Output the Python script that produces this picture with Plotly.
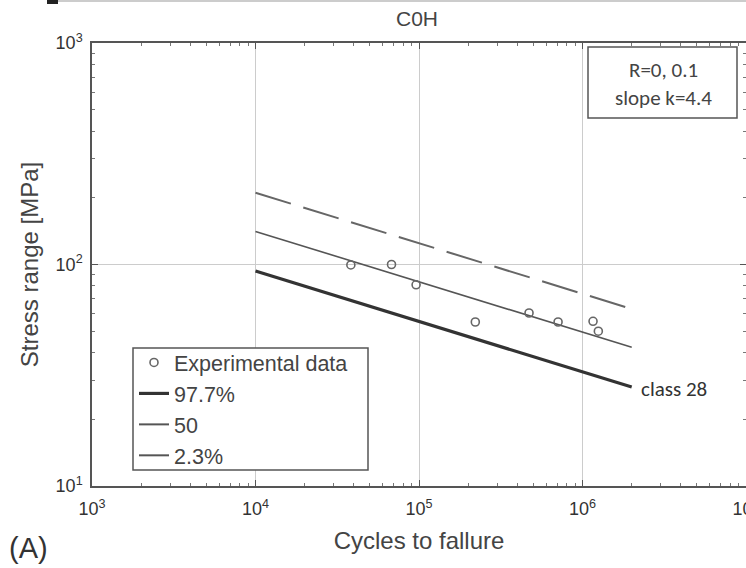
import plotly.graph_objects as go

# Data
cycles_exp = [38300, 67900, 96000, 221000, 471000, 709000, 1160000, 1250000]
stress_exp = [99.5, 100, 81, 55, 60.4, 55, 55.4, 50]

cycles_line = [1e4, 2e6]
s_977 = [93.4, 28]
s_50 = [141, 42.3]
s_23 = [211, 63]

x_tickvals = [1e3, 1e4, 1e5, 1e6, 1e7]
x_ticktext = ["10<sup>3</sup>", "10<sup>4</sup>", "10<sup>5</sup>", "10<sup>6</sup>", "10<sup>7</sup>"]
y_tickvals = [10, 100, 1000]
y_ticktext = ["10<sup>1</sup>", "10<sup>2</sup>", "10<sup>3</sup>"]

PL, PR, PT, PB = 92, 0, 43, 82
W, H = 746, 568
PW, PH = W - PL - PR, H - PT - PB


def px(x):
    return (x - PL) / PW


def py(y):
    return (H - PB - y) / PH


fig = go.Figure()

fig.add_trace(go.Scatter(x=cycles_line, y=s_23, mode="lines",
                         line=dict(color="#666666", width=2, dash="37px,13px"),
                         showlegend=False))
fig.add_trace(go.Scatter(x=cycles_line, y=s_50, mode="lines",
                         line=dict(color="#555555", width=1.6), showlegend=False))
fig.add_trace(go.Scatter(x=cycles_line, y=s_977, mode="lines",
                         line=dict(color="#333333", width=3.2), showlegend=False))
fig.add_trace(go.Scatter(x=cycles_exp, y=stress_exp, mode="markers",
                         marker=dict(symbol="circle-open", size=8, color="#666666",
                                     line=dict(width=1.6)),
                         name="Experimental data"))
# legend entries
fig.add_trace(go.Scatter(x=[None], y=[None], mode="lines",
                         line=dict(color="#333333", width=3.2), name="97.7%"))
fig.add_trace(go.Scatter(x=[None], y=[None], mode="lines",
                         line=dict(color="#555555", width=2), name="50"))
fig.add_trace(go.Scatter(x=[None], y=[None], mode="lines",
                         line=dict(color="#555555", width=2), name="2.3%"))

axis_common = dict(
    type="log", showline=True, linecolor="#555555", linewidth=1.5, mirror="ticks",
    ticks="inside", ticklen=6, tickcolor="#555555",
    showgrid=True, gridcolor="#cccccc", gridwidth=1,
    zeroline=False, automargin=False, tickmode="array", ticklabeloverflow="allow",
    tickfont=dict(family="Liberation Sans, Arial", size=18, color="#333333"),
    minor=dict(ticks="inside", ticklen=3, tickcolor="#777777", showgrid=False, dtick="D1"),
)

fig.update_layout(
    width=W, height=H,
    margin=dict(l=PL, r=PR, t=PT, b=PB, autoexpand=False),
    paper_bgcolor="white", plot_bgcolor="white",
    font=dict(family="Liberation Sans, Arial", color="#444444"),
    title=dict(text="C0H", x=417 / W, xanchor="center", y=1 - 19 / H, yanchor="middle",
               font=dict(size=21, color="#444444")),
    xaxis=dict(axis_common, range=[3, 7], ticklabelstandoff=6,
               tickvals=x_tickvals, ticktext=x_ticktext,
               title=dict(text="Cycles to fallure", font=dict(size=24, color="#444444"), standoff=14)),
    yaxis=dict(axis_common, range=[1, 3], ticklabelstandoff=4,
               tickvals=y_tickvals, ticktext=y_ticktext,
               title=dict(text="Stress range [MPa]", font=dict(size=24, color="#444444"), standoff=10)),
    legend=dict(x=px(134), y=py(342), xanchor="left", yanchor="top",
                bgcolor="rgba(0,0,0,0)", borderwidth=0,
                font=dict(size=21.5, color="#444444"), tracegroupgap=0, itemwidth=30),
    showlegend=True,
)

# legend frame
fig.add_shape(type="rect", xref="paper", yref="paper", x0=px(133), x1=px(368),
              y0=py(470), y1=py(348), line=dict(color="#555555", width=1.5),
              fillcolor="white", layer="above")
# info box
fig.add_shape(type="rect", xref="paper", yref="paper", x0=px(588), x1=px(737),
              y0=py(118), y1=py(47), line=dict(color="#555555", width=1.5),
              fillcolor="white", layer="above")
box_lines = ["R=0, 0.1", "slope k=4.4"]
box_line_y = [70.5, 98]
for t, yy in zip(box_lines, box_line_y):
    fig.add_annotation(text=t, xref="paper", yref="paper", x=px(663), y=py(yy),
                       xanchor="center", yanchor="middle", showarrow=False,
                       font=dict(family="Carlito, Open Sans, Liberation Sans", size=21,
                                 color="#444444"))
fig.add_annotation(text="class 28", x=6.301, y=1.447, xref="x", yref="y",
                   xanchor="left", yanchor="middle", showarrow=False, xshift=7, yshift=-2,
                   font=dict(family="Carlito, Open Sans, Liberation Sans", size=21, color="#333333"))
fig.add_annotation(text="(A)", xref="paper", yref="paper", x=px(7), y=py(548),
                   xanchor="left", yanchor="middle", showarrow=False,
                   font=dict(size=29, color="#333333"))
# scan edge artifacts at the top
fig.add_shape(type="line", xref="paper", yref="paper", x0=px(56), x1=1, y0=py(1), y1=py(1),
              line=dict(color="#bbbbbb", width=1.5))
fig.add_shape(type="rect", xref="paper", yref="paper", x0=px(47), x1=px(58), y0=py(4), y1=py(0),
              line=dict(width=0), fillcolor="#222222")

fig.write_html("out.html", post_script="document.body.style.margin='0px';",
               config={"displayModeBar": False})
